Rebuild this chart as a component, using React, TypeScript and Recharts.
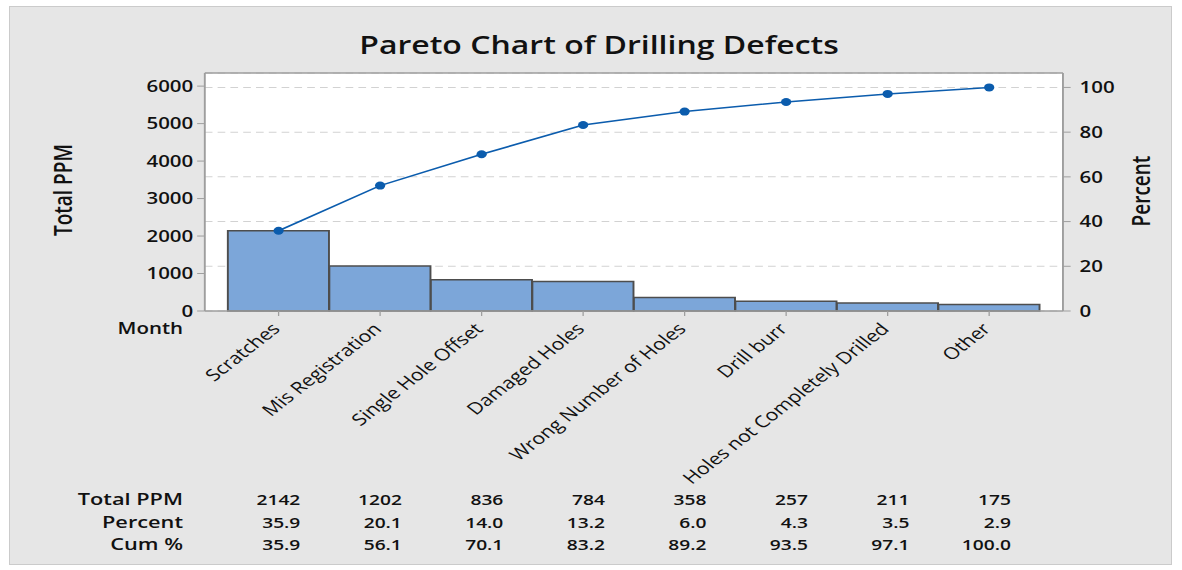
import { Bar, CartesianGrid, ComposedChart, Line, XAxis, YAxis } from 'recharts'

const categories = [
  'Scratches',
  'Mis Registration',
  'Single Hole Offset',
  'Damaged Holes',
  'Wrong Number of Holes',
  'Drill burr',
  'Holes not Completely Drilled',
  'Other',
]
const totalPpm = [2142, 1202, 836, 784, 358, 257, 211, 175]
const percent = [35.9, 20.1, 14.0, 13.2, 6.0, 4.3, 3.5, 2.9]
const cumPercent = [35.9, 56.1, 70.1, 83.2, 89.2, 93.5, 97.1, 100.0]
const ppmTicks = [0, 1000, 2000, 3000, 4000, 5000, 6000]
const percentTicks = [0, 20, 40, 60, 80, 100]
const rowLabels = ['Total PPM', 'Percent', 'Cum %']
const ppmMax = 6350

// percent axis is scaled so 100% lines up with the total
const total = totalPpm.reduce((a, b) => a + b, 0)
const percentMax = (ppmMax / total) * 100

const data = categories.map((name, i) => ({ name, ppm: totalPpm[i], cum: cumPercent[i] }))

// the reference is stretched sideways, so draw narrower and scale x back up
const STRETCH = 1.28
const W = 1182 / STRETCH
const H = 570
const FONT = '"Open Sans", "Noto Sans", sans-serif'
const INK = '#111'
const AXIS = '#9e9e9e'
const ROW_Y = [505, 528, 550]

function CategoryTick({ x, y, payload }: any) {
  const i = categories.indexOf(payload.value)
  const cells = [String(totalPpm[i]), percent[i].toFixed(1), cumPercent[i].toFixed(1)]
  const lx = x + 2
  const ly = y + 12
  return (
    <g fontFamily={FONT} fill={INK}>
      <text x={lx} y={ly} transform={`rotate(-45, ${lx}, ${ly})`} textAnchor="end" fontSize={16.5}>
        {payload.value}
      </text>
      {cells.map((v, r) => (
        <text key={r} x={x + 17} y={ROW_Y[r]} textAnchor="end" fontSize={15} fontWeight={600}>
          {v}
        </text>
      ))}
    </g>
  )
}

const numTick = { fontSize: 16, fontWeight: 600, fill: INK, fontFamily: FONT }

export default function App() {
  return (
    <div style={{ position: 'absolute', left: 0, top: 0, width: 1182, height: 570, background: '#fff' }}>
      <div
        style={{
          position: 'absolute',
          left: 9,
          top: 6,
          width: 1163,
          height: 559,
          background: '#e6e6e6',
          border: '1px solid #cbcbcb',
          boxSizing: 'border-box',
        }}
      />
      <div
        style={{
          position: 'absolute',
          left: 0,
          top: 0,
          width: W,
          height: H,
          transform: `scaleX(${STRETCH})`,
          transformOrigin: '0 0',
        }}
      >
        <ComposedChart
          width={W}
          height={H}
          data={data}
          barCategoryGap={0}
          margin={{ top: 72, right: 33, bottom: 59, left: 110 }}
        >
          <CartesianGrid
            yAxisId="right"
            vertical={false}
            stroke="#d2d2d2"
            strokeDasharray="6 4"
            fill="#fff"
          />
          <XAxis
            dataKey="name"
            interval={0}
            height={200}
            padding={{ left: 18, right: 18 }}
            axisLine={{ stroke: AXIS, strokeWidth: 1.5 }}
            tickLine={{ stroke: AXIS }}
            tickSize={5}
            tick={<CategoryTick />}
          />
          <XAxis
            xAxisId="top"
            dataKey="name"
            orientation="top"
            height={1}
            tick={false}
            tickLine={false}
            axisLine={{ stroke: AXIS, strokeWidth: 1.5 }}
          />
          <YAxis
            yAxisId="left"
            domain={[0, ppmMax]}
            ticks={ppmTicks}
            interval={0}
            width={50}
            tickSize={6}
            tickMargin={3}
            axisLine={{ stroke: AXIS, strokeWidth: 1.5 }}
            tickLine={{ stroke: AXIS }}
            tick={numTick}
          />
          <YAxis
            yAxisId="right"
            orientation="right"
            domain={[0, percentMax]}
            ticks={percentTicks}
            interval={0}
            width={60}
            tickSize={6}
            tickMargin={7}
            axisLine={{ stroke: AXIS, strokeWidth: 1.5 }}
            tickLine={{ stroke: AXIS }}
            tick={numTick}
          />
          <Bar
            yAxisId="left"
            dataKey="ppm"
            fill="#7ca6d9"
            stroke="#4d4d4d"
            strokeWidth={1.5}
            isAnimationActive={false}
          />
          <Line
            yAxisId="right"
            dataKey="cum"
            type="linear"
            stroke="#0b5cad"
            strokeWidth={1.5}
            dot={{ r: 4, fill: '#0b5cad', stroke: '#0b5cad', strokeWidth: 0 }}
            isAnimationActive={false}
          />
        </ComposedChart>
        <svg
          width={W}
          height={H}
          style={{ position: 'absolute', left: 0, top: 0, pointerEvents: 'none' }}
          fontFamily={FONT}
          fill={INK}
        >
          <text x={468} y={54} textAnchor="middle" fontSize={25} fontWeight={600}>
            Pareto Chart of Drilling Defects
          </text>
          <text
            x={49}
            y={190}
            transform="rotate(-90, 49, 190)"
            textAnchor="middle"
            dominantBaseline="central"
            fontSize={19}
            fontWeight={600}
          >
            Total PPM
          </text>
          <text
            x={891}
            y={191}
            transform="rotate(-90, 891, 191)"
            textAnchor="middle"
            dominantBaseline="central"
            fontSize={19}
            fontWeight={600}
          >
            Percent
          </text>
          <text x={143} y={334} textAnchor="end" fontSize={16} fontWeight={600}>
            Month
          </text>
          {rowLabels.map((label, r) => (
            <text key={label} x={143} y={ROW_Y[r]} textAnchor="end" fontSize={17} fontWeight={600}>
              {label}
            </text>
          ))}
        </svg>
      </div>
    </div>
  )
}
